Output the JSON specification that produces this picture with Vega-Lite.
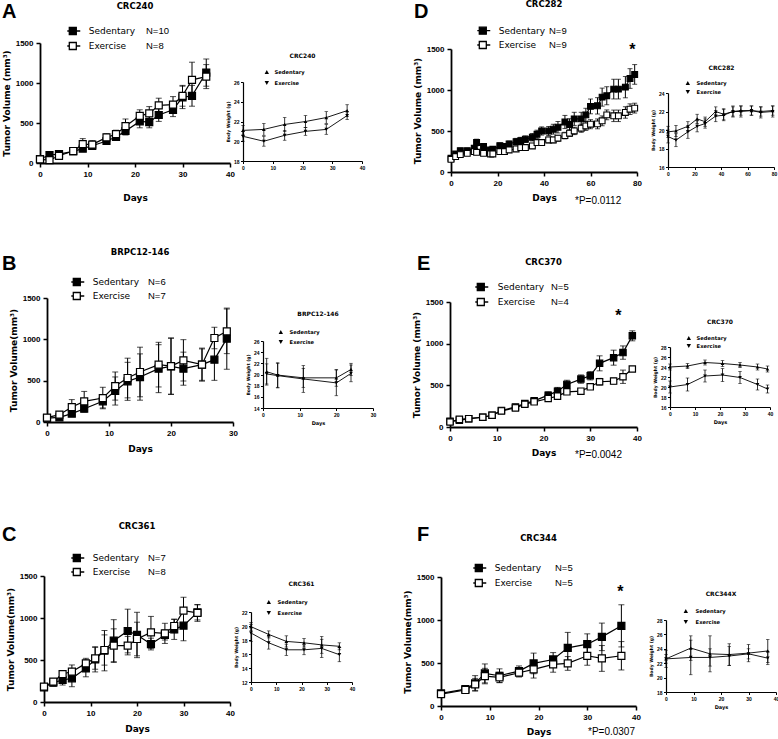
{
"$schema": "https://vega.github.io/schema/vega-lite/v6.json",
"padding": 0,
"background": "white",
"columns": 8,
"spacing": 0,
"bounds": "flush",
"resolve": {"scale": {"fill": "independent", "shape": "independent"}, "legend": {"fill": "independent", "shape": "independent"}},
"datasets": {
"tvA": [
{"day":0,"group":"Sedentary","mean":50,"sem":15},{"day":2,"group":"Sedentary","mean":100,"sem":15},{"day":4,"group":"Sedentary","mean":110,"sem":20},{"day":7,"group":"Sedentary","mean":145,"sem":25},{"day":9,"group":"Sedentary","mean":180,"sem":35},{"day":11,"group":"Sedentary","mean":215,"sem":30},{"day":14,"group":"Sedentary","mean":275,"sem":35},{"day":16,"group":"Sedentary","mean":325,"sem":40},{"day":18,"group":"Sedentary","mean":400,"sem":50},{"day":21,"group":"Sedentary","mean":520,"sem":80},{"day":23,"group":"Sedentary","mean":510,"sem":70},{"day":25,"group":"Sedentary","mean":600,"sem":80},{"day":28,"group":"Sedentary","mean":665,"sem":85},{"day":30,"group":"Sedentary","mean":820,"sem":140},{"day":32,"group":"Sedentary","mean":840,"sem":130},{"day":35,"group":"Sedentary","mean":1130,"sem":170},
{"day":0,"group":"Exercise","mean":45,"sem":15},{"day":2,"group":"Exercise","mean":35,"sem":10},{"day":4,"group":"Exercise","mean":90,"sem":20},{"day":7,"group":"Exercise","mean":150,"sem":25},{"day":9,"group":"Exercise","mean":235,"sem":70},{"day":11,"group":"Exercise","mean":230,"sem":50},{"day":14,"group":"Exercise","mean":320,"sem":45},{"day":16,"group":"Exercise","mean":360,"sem":50},{"day":18,"group":"Exercise","mean":460,"sem":90},{"day":21,"group":"Exercise","mean":590,"sem":75},{"day":23,"group":"Exercise","mean":620,"sem":85},{"day":25,"group":"Exercise","mean":720,"sem":90},{"day":28,"group":"Exercise","mean":730,"sem":100},{"day":30,"group":"Exercise","mean":840,"sem":130},{"day":32,"group":"Exercise","mean":1040,"sem":220},{"day":35,"group":"Exercise","mean":1080,"sem":150}
],
"tvD": [
{"day":0,"group":"Sedentary","mean":167,"sem":25},{"day":2,"group":"Sedentary","mean":220,"sem":30},{"day":4,"group":"Sedentary","mean":260,"sem":30},{"day":7,"group":"Sedentary","mean":260,"sem":30},{"day":10,"group":"Sedentary","mean":290,"sem":30},{"day":11,"group":"Sedentary","mean":360,"sem":40},{"day":14,"group":"Sedentary","mean":310,"sem":30},{"day":17,"group":"Sedentary","mean":270,"sem":25},{"day":18,"group":"Sedentary","mean":277,"sem":25},{"day":21,"group":"Sedentary","mean":322,"sem":30},{"day":23,"group":"Sedentary","mean":310,"sem":30},{"day":25,"group":"Sedentary","mean":342,"sem":35},{"day":28,"group":"Sedentary","mean":370,"sem":40},{"day":30,"group":"Sedentary","mean":383,"sem":40},{"day":32,"group":"Sedentary","mean":400,"sem":40},{"day":35,"group":"Sedentary","mean":424,"sem":45},{"day":37,"group":"Sedentary","mean":460,"sem":50},{"day":39,"group":"Sedentary","mean":500,"sem":50},{"day":42,"group":"Sedentary","mean":500,"sem":55},{"day":44,"group":"Sedentary","mean":522,"sem":60},{"day":46,"group":"Sedentary","mean":546,"sem":70},{"day":49,"group":"Sedentary","mean":610,"sem":80},{"day":51,"group":"Sedentary","mean":580,"sem":70},{"day":53,"group":"Sedentary","mean":648,"sem":80},{"day":56,"group":"Sedentary","mean":648,"sem":80},{"day":58,"group":"Sedentary","mean":697,"sem":80},{"day":60,"group":"Sedentary","mean":800,"sem":90},{"day":63,"group":"Sedentary","mean":807,"sem":100},{"day":65,"group":"Sedentary","mean":913,"sem":110},{"day":67,"group":"Sedentary","mean":930,"sem":110},{"day":70,"group":"Sedentary","mean":1011,"sem":120},{"day":72,"group":"Sedentary","mean":1011,"sem":120},{"day":75,"group":"Sedentary","mean":1035,"sem":130},{"day":77,"group":"Sedentary","mean":1140,"sem":120},{"day":79,"group":"Sedentary","mean":1190,"sem":120},
{"day":0,"group":"Exercise","mean":155,"sem":20},{"day":2,"group":"Exercise","mean":188,"sem":20},{"day":4,"group":"Exercise","mean":212,"sem":20},{"day":7,"group":"Exercise","mean":228,"sem":20},{"day":10,"group":"Exercise","mean":249,"sem":25},{"day":11,"group":"Exercise","mean":240,"sem":25},{"day":14,"group":"Exercise","mean":228,"sem":20},{"day":17,"group":"Exercise","mean":220,"sem":20},{"day":18,"group":"Exercise","mean":220,"sem":20},{"day":21,"group":"Exercise","mean":249,"sem":20},{"day":23,"group":"Exercise","mean":249,"sem":20},{"day":25,"group":"Exercise","mean":269,"sem":25},{"day":28,"group":"Exercise","mean":281,"sem":25},{"day":30,"group":"Exercise","mean":298,"sem":25},{"day":32,"group":"Exercise","mean":298,"sem":25},{"day":35,"group":"Exercise","mean":318,"sem":30},{"day":37,"group":"Exercise","mean":359,"sem":30},{"day":39,"group":"Exercise","mean":359,"sem":30},{"day":42,"group":"Exercise","mean":391,"sem":35},{"day":44,"group":"Exercise","mean":391,"sem":35},{"day":46,"group":"Exercise","mean":412,"sem":35},{"day":49,"group":"Exercise","mean":444,"sem":40},{"day":51,"group":"Exercise","mean":473,"sem":40},{"day":53,"group":"Exercise","mean":501,"sem":45},{"day":56,"group":"Exercise","mean":534,"sem":50},{"day":58,"group":"Exercise","mean":562,"sem":55},{"day":60,"group":"Exercise","mean":583,"sem":55},{"day":63,"group":"Exercise","mean":587,"sem":60},{"day":65,"group":"Exercise","mean":624,"sem":60},{"day":67,"group":"Exercise","mean":697,"sem":60},{"day":70,"group":"Exercise","mean":685,"sem":70},{"day":72,"group":"Exercise","mean":685,"sem":70},{"day":75,"group":"Exercise","mean":726,"sem":70},{"day":77,"group":"Exercise","mean":766,"sem":65},{"day":79,"group":"Exercise","mean":779,"sem":60}
],
"tvB": [
{"day":0,"group":"Sedentary","mean":48,"sem":15},{"day":2,"group":"Sedentary","mean":56,"sem":15},{"day":4,"group":"Sedentary","mean":101,"sem":25},{"day":6,"group":"Sedentary","mean":161,"sem":40},{"day":9,"group":"Sedentary","mean":250,"sem":80},{"day":11,"group":"Sedentary","mean":375,"sem":170},{"day":13,"group":"Sedentary","mean":492,"sem":230},{"day":15,"group":"Sedentary","mean":544,"sem":280},{"day":18,"group":"Sedentary","mean":645,"sem":290},{"day":20,"group":"Sedentary","mean":673,"sem":340},{"day":22,"group":"Sedentary","mean":645,"sem":200},{"day":25,"group":"Sedentary","mean":694,"sem":200},{"day":27,"group":"Sedentary","mean":754,"sem":250},{"day":29,"group":"Sedentary","mean":1008,"sem":370},
{"day":0,"group":"Exercise","mean":52,"sem":15},{"day":2,"group":"Exercise","mean":89,"sem":25},{"day":4,"group":"Exercise","mean":181,"sem":90},{"day":6,"group":"Exercise","mean":250,"sem":120},{"day":9,"group":"Exercise","mean":290,"sem":130},{"day":11,"group":"Exercise","mean":435,"sem":170},{"day":13,"group":"Exercise","mean":532,"sem":240},{"day":15,"group":"Exercise","mean":605,"sem":300},{"day":18,"group":"Exercise","mean":694,"sem":270},{"day":20,"group":"Exercise","mean":677,"sem":340},{"day":22,"group":"Exercise","mean":746,"sem":250},{"day":25,"group":"Exercise","mean":694,"sem":190},{"day":27,"group":"Exercise","mean":1016,"sem":130},{"day":29,"group":"Exercise","mean":1097,"sem":270}
],
"tvE": [
{"day":0,"group":"Sedentary","mean":68,"sem":10},{"day":2,"group":"Sedentary","mean":80,"sem":10},{"day":4,"group":"Sedentary","mean":100,"sem":10},{"day":7,"group":"Sedentary","mean":117,"sem":10},{"day":9,"group":"Sedentary","mean":141,"sem":10},{"day":11,"group":"Sedentary","mean":197,"sem":15},{"day":14,"group":"Sedentary","mean":241,"sem":20},{"day":16,"group":"Sedentary","mean":281,"sem":25},{"day":18,"group":"Sedentary","mean":314,"sem":25},{"day":21,"group":"Sedentary","mean":382,"sem":40},{"day":23,"group":"Sedentary","mean":430,"sem":45},{"day":25,"group":"Sedentary","mean":511,"sem":50},{"day":28,"group":"Sedentary","mean":575,"sem":50},{"day":30,"group":"Sedentary","mean":615,"sem":50},{"day":32,"group":"Sedentary","mean":764,"sem":90},{"day":35,"group":"Sedentary","mean":832,"sem":90},{"day":37,"group":"Sedentary","mean":893,"sem":80},{"day":39,"group":"Sedentary","mean":1094,"sem":60},
{"day":0,"group":"Exercise","mean":60,"sem":10},{"day":2,"group":"Exercise","mean":92,"sem":10},{"day":4,"group":"Exercise","mean":100,"sem":10},{"day":7,"group":"Exercise","mean":117,"sem":10},{"day":9,"group":"Exercise","mean":141,"sem":10},{"day":11,"group":"Exercise","mean":193,"sem":15},{"day":14,"group":"Exercise","mean":229,"sem":20},{"day":16,"group":"Exercise","mean":273,"sem":20},{"day":18,"group":"Exercise","mean":302,"sem":20},{"day":21,"group":"Exercise","mean":342,"sem":30},{"day":23,"group":"Exercise","mean":370,"sem":20},{"day":25,"group":"Exercise","mean":422,"sem":20},{"day":28,"group":"Exercise","mean":430,"sem":20},{"day":30,"group":"Exercise","mean":482,"sem":30},{"day":32,"group":"Exercise","mean":543,"sem":40},{"day":35,"group":"Exercise","mean":551,"sem":35},{"day":37,"group":"Exercise","mean":603,"sem":80},{"day":39,"group":"Exercise","mean":696,"sem":30}
],
"tvC": [
{"day":0,"group":"Sedentary","mean":175,"sem":30},{"day":2,"group":"Sedentary","mean":230,"sem":40},{"day":4,"group":"Sedentary","mean":262,"sem":60},{"day":6,"group":"Sedentary","mean":282,"sem":100},{"day":9,"group":"Sedentary","mean":400,"sem":100},{"day":11,"group":"Sedentary","mean":508,"sem":150},{"day":13,"group":"Sedentary","mean":611,"sem":240},{"day":15,"group":"Sedentary","mean":730,"sem":250},{"day":18,"group":"Sedentary","mean":845,"sem":260},{"day":20,"group":"Sedentary","mean":798,"sem":270},{"day":23,"group":"Sedentary","mean":690,"sem":70},{"day":26,"group":"Sedentary","mean":798,"sem":60},{"day":28,"group":"Sedentary","mean":865,"sem":120},{"day":30,"group":"Sedentary","mean":909,"sem":180},{"day":33,"group":"Sedentary","mean":1067,"sem":90},
{"day":0,"group":"Exercise","mean":183,"sem":20},{"day":2,"group":"Exercise","mean":242,"sem":30},{"day":4,"group":"Exercise","mean":333,"sem":40},{"day":6,"group":"Exercise","mean":361,"sem":80},{"day":9,"group":"Exercise","mean":460,"sem":60},{"day":11,"group":"Exercise","mean":520,"sem":130},{"day":13,"group":"Exercise","mean":619,"sem":180},{"day":15,"group":"Exercise","mean":671,"sem":200},{"day":18,"group":"Exercise","mean":671,"sem":110},{"day":20,"group":"Exercise","mean":750,"sem":200},{"day":23,"group":"Exercise","mean":829,"sem":190},{"day":26,"group":"Exercise","mean":817,"sem":120},{"day":28,"group":"Exercise","mean":905,"sem":80},{"day":30,"group":"Exercise","mean":1087,"sem":160},{"day":33,"group":"Exercise","mean":1060,"sem":100}
],
"tvF": [
{"day":0,"group":"Sedentary","mean":147,"sem":20},{"day":5,"group":"Sedentary","mean":197,"sem":30},{"day":7,"group":"Sedentary","mean":263,"sem":90},{"day":9,"group":"Sedentary","mean":379,"sem":110},{"day":12,"group":"Sedentary","mean":352,"sem":80},{"day":16,"group":"Sedentary","mean":406,"sem":60},{"day":19,"group":"Sedentary","mean":495,"sem":120},{"day":23,"group":"Sedentary","mean":541,"sem":80},{"day":26,"group":"Sedentary","mean":676,"sem":180},{"day":30,"group":"Sedentary","mean":719,"sem":120},{"day":33,"group":"Sedentary","mean":804,"sem":160},{"day":37,"group":"Sedentary","mean":932,"sem":245},
{"day":0,"group":"Exercise","mean":139,"sem":20},{"day":5,"group":"Exercise","mean":186,"sem":30},{"day":7,"group":"Exercise","mean":251,"sem":70},{"day":9,"group":"Exercise","mean":348,"sem":90},{"day":12,"group":"Exercise","mean":332,"sem":60},{"day":16,"group":"Exercise","mean":387,"sem":50},{"day":19,"group":"Exercise","mean":425,"sem":100},{"day":23,"group":"Exercise","mean":483,"sem":90},{"day":26,"group":"Exercise","mean":495,"sem":80},{"day":30,"group":"Exercise","mean":584,"sem":110},{"day":33,"group":"Exercise","mean":553,"sem":150},{"day":37,"group":"Exercise","mean":584,"sem":165}
],
"bwA": [
{"day":0,"group":"Sedentary","mean":21.1,"sem":0.5},{"day":7,"group":"Sedentary","mean":21.2,"sem":0.6},{"day":14,"group":"Sedentary","mean":21.7,"sem":0.7},{"day":21,"group":"Sedentary","mean":22.0,"sem":0.6},{"day":28,"group":"Sedentary","mean":22.4,"sem":0.6},{"day":35,"group":"Sedentary","mean":23.1,"sem":0.6},
{"day":0,"group":"Exercise","mean":20.5,"sem":0.5},{"day":7,"group":"Exercise","mean":20.0,"sem":0.5},{"day":14,"group":"Exercise","mean":20.6,"sem":0.5},{"day":21,"group":"Exercise","mean":21.0,"sem":0.4},{"day":28,"group":"Exercise","mean":21.2,"sem":0.5},{"day":35,"group":"Exercise","mean":22.6,"sem":0.4}
],
"bwD": [
{"day":0,"group":"Sedentary","mean":19.8,"sem":0.6},{"day":6,"group":"Sedentary","mean":19.9,"sem":0.6},{"day":15,"group":"Sedentary","mean":20.4,"sem":0.5},{"day":22,"group":"Sedentary","mean":21.2,"sem":0.5},{"day":28,"group":"Sedentary","mean":20.9,"sem":0.5},{"day":36,"group":"Sedentary","mean":22.0,"sem":0.5},{"day":42,"group":"Sedentary","mean":21.7,"sem":0.6},{"day":49,"group":"Sedentary","mean":22.0,"sem":0.5},{"day":55,"group":"Sedentary","mean":22.1,"sem":0.5},{"day":63,"group":"Sedentary","mean":22.1,"sem":0.5},{"day":70,"group":"Sedentary","mean":22.0,"sem":0.5},{"day":79,"group":"Sedentary","mean":22.1,"sem":0.5},
{"day":0,"group":"Exercise","mean":19.3,"sem":0.7},{"day":6,"group":"Exercise","mean":18.9,"sem":0.7},{"day":15,"group":"Exercise","mean":19.8,"sem":0.7},{"day":22,"group":"Exercise","mean":20.4,"sem":0.6},{"day":28,"group":"Exercise","mean":20.7,"sem":0.5},{"day":36,"group":"Exercise","mean":21.5,"sem":0.6},{"day":42,"group":"Exercise","mean":21.6,"sem":0.6},{"day":49,"group":"Exercise","mean":22.0,"sem":0.6},{"day":55,"group":"Exercise","mean":22.0,"sem":0.6},{"day":63,"group":"Exercise","mean":22.1,"sem":0.5},{"day":70,"group":"Exercise","mean":21.9,"sem":0.6},{"day":79,"group":"Exercise","mean":22.0,"sem":0.6}
],
"bwB": [
{"day":1,"group":"Sedentary","mean":20.5,"sem":2.4},{"day":4,"group":"Sedentary","mean":19.9,"sem":2.2},{"day":11,"group":"Sedentary","mean":19.4,"sem":1.7},{"day":20,"group":"Sedentary","mean":19.4,"sem":1.5},{"day":24,"group":"Sedentary","mean":20.9,"sem":1.1},
{"day":1,"group":"Exercise","mean":20.1,"sem":1.8},{"day":4,"group":"Exercise","mean":19.8,"sem":2.2},{"day":11,"group":"Exercise","mean":19.2,"sem":2.4},{"day":20,"group":"Exercise","mean":18.5,"sem":2.3},{"day":24,"group":"Exercise","mean":20.2,"sem":1.5}
],
"bwE": [
{"day":0,"group":"Sedentary","mean":24.0,"sem":0.6},{"day":7,"group":"Sedentary","mean":24.2,"sem":0.5},{"day":14,"group":"Sedentary","mean":24.9,"sem":0.5},{"day":21,"group":"Sedentary","mean":24.7,"sem":0.6},{"day":28,"group":"Sedentary","mean":24.4,"sem":0.5},{"day":35,"group":"Sedentary","mean":24.0,"sem":0.6},{"day":39,"group":"Sedentary","mean":23.6,"sem":0.6},
{"day":0,"group":"Exercise","mean":20.0,"sem":1.2},{"day":7,"group":"Exercise","mean":20.5,"sem":1.3},{"day":14,"group":"Exercise","mean":22.2,"sem":1.2},{"day":21,"group":"Exercise","mean":22.4,"sem":1.3},{"day":28,"group":"Exercise","mean":21.9,"sem":1.2},{"day":35,"group":"Exercise","mean":20.5,"sem":1.1},{"day":39,"group":"Exercise","mean":19.6,"sem":0.8}
],
"bwC": [
{"day":0,"group":"Sedentary","mean":19.9,"sem":0.6},{"day":7,"group":"Sedentary","mean":18.8,"sem":0.5},{"day":14,"group":"Sedentary","mean":17.8,"sem":0.8},{"day":21,"group":"Sedentary","mean":17.6,"sem":0.6},{"day":28,"group":"Sedentary","mean":17.3,"sem":1.2},{"day":35,"group":"Sedentary","mean":17.1,"sem":0.5},
{"day":0,"group":"Exercise","mean":19.0,"sem":1.2},{"day":7,"group":"Exercise","mean":17.6,"sem":0.9},{"day":14,"group":"Exercise","mean":16.6,"sem":0.8},{"day":21,"group":"Exercise","mean":16.6,"sem":0.7},{"day":28,"group":"Exercise","mean":16.8,"sem":1.3},{"day":35,"group":"Exercise","mean":15.9,"sem":1.0}
],
"bwF": [
{"day":0,"group":"Sedentary","mean":22.6,"sem":0.6},{"day":9,"group":"Sedentary","mean":24.1,"sem":1.7},{"day":16,"group":"Sedentary","mean":23.3,"sem":2.5},{"day":23,"group":"Sedentary","mean":23.2,"sem":1.5},{"day":30,"group":"Sedentary","mean":23.4,"sem":1.2},{"day":37,"group":"Sedentary","mean":23.7,"sem":1.6},
{"day":0,"group":"Exercise","mean":22.6,"sem":1.2},{"day":9,"group":"Exercise","mean":22.8,"sem":2.4},{"day":16,"group":"Exercise","mean":22.8,"sem":1.2},{"day":23,"group":"Exercise","mean":23.0,"sem":1.3},{"day":30,"group":"Exercise","mean":23.3,"sem":0.7},{"day":37,"group":"Exercise","mean":22.7,"sem":0.9}
],
"stars": [
{"panel":"D","day":78,"value":1490,"label":"*"},
{"panel":"E","day":36,"value":1330,"label":"*"},
{"panel":"F","day":36.8,"value":1320,"label":"*"}
]
},
"concat": [
{"width":40,"height":43,"data":{"values":[]},"mark":"point"},
{"width":193,"height":43,"data":{"values":[]},"mark":"point"},
{"width":10,"height":43,"data":{"values":[]},"mark":"point"},
{"width":130,"height":43,"data":{"values":[]},"mark":"point"},
{"width":68,"height":43,"data":{"values":[]},"mark":"point"},
{"width":196,"height":43,"data":{"values":[]},"mark":"point"},
{"width":29,"height":43,"data":{"values":[]},"mark":"point"},
{"width":111,"height":43,"data":{"values":[]},"mark":"point"},

{"width":40,"height":129,"data":{"values":[]},"mark":"point","title":{"text":"A","anchor":"start","frame":"group","offset":21.5,"dx":2,"font":"Liberation Sans","fontSize":20,"fontWeight":"bold"}},
{"width":193,"height":129,"data":{"name":"tvA"},
 "title":{"text":"CRC240","offset":15.5,"dx":-1.5},
 "encoding":{"x":{"field":"day","type":"quantitative","scale":{"domain":[0,40],"range":[0,190],"nice":false},"axis":{"title":"Days","titlePadding":15,"values":[0,10,20,30,40],"offset":-9}},
   "y":{"field":"mean","type":"quantitative","scale":{"domain":[0,1500],"range":[120,0],"nice":false},"axis":{"title":"Tumor Volume (mm³)","values":[0,500,1000,1500],"offset":0}}},
 "layer":[
  {"mark":{"type":"errorbar","ticks":true,"size":6,"thickness":1,"color":"black"},"encoding":{"yError":{"field":"sem"},"detail":{"field":"group"}}},
  {"mark":{"type":"line","color":"black","strokeWidth":1.2},"encoding":{"detail":{"field":"group"}}},
  {"mark":{"type":"square","size":49,"stroke":"black","strokeWidth":1.2,"opacity":1},"encoding":{
    "fill":{"field":"group","type":"nominal","scale":{"domain":["Sedentary","Exercise"],"range":["black","white"]},
     "legend":{"orient":"none","legendX":27.3,"legendY":-17,"padding":0,"clipHeight":10,"rowPadding":5,"symbolType":"M-1.6,0H-0.75M0.75,0H1.6M-0.75,-0.75H0.75V0.75H-0.75Z","symbolSize":87,"symbolStrokeColor":"black","symbolStrokeWidth":1.3,"labelFont":"DejaVu Sans","labelFontSize":9,"labelOffset":10.4,
       "title":["N=10","N=8"],"titleOrient":"right","titleAnchor":"start","titleBaseline":"top","titleLineHeight":15,"titlePadding":10.7,"titleFont":"Liberation Sans","titleFontSize":9.5,"titleFontWeight":"normal","titleColor":"black"}}}}
 ]},
{"width":10,"height":129,"data":{"values":[]},"mark":"point"},
{"width":130,"height":129,"data":{"name":"bwA"},
 "title":{"text":"CRC240","fontSize":6,"offset":-16,"dx":-5.5},
 "encoding":{"x":{"field":"day","type":"quantitative","scale":{"domain":[0,40],"range":[0,119],"nice":false},"axis":{"title":null,"values":[0,10,20,30,40],"offset":-11,"labelFontSize":5,"tickSize":2.5,"tickWidth":1,"domainWidth":1.2,"labelPadding":1.5}},
   "y":{"field":"mean","type":"quantitative","scale":{"domain":[18,26],"range":[118,39],"nice":false,"zero":false},"axis":{"title":"Body Weight (g)","values":[18,20,22,24,26],"offset":0,"labelFontSize":5,"titleFontSize":4.5,"tickSize":2.5,"tickWidth":1,"domainWidth":1.2,"labelPadding":1.5,"titlePadding":3}}},
 "layer":[
  {"mark":{"type":"errorbar","ticks":true,"size":3.5,"thickness":0.8,"color":"black"},"encoding":{"yError":{"field":"sem"},"detail":{"field":"group"}}},
  {"mark":{"type":"line","color":"black","strokeWidth":0.9},"encoding":{"detail":{"field":"group"}}},
  {"mark":{"type":"point","filled":true,"size":14,"color":"black","opacity":1},"encoding":{
    "shape":{"field":"group","type":"nominal","scale":{"domain":["Sedentary","Exercise"],"range":["triangle-up","triangle-down"]},
     "legend":{"orient":"none","legendX":20.8,"legendY":26.5,"title":null,"padding":0,"clipHeight":5,"rowPadding":5,"symbolSize":19,"labelFont":"DejaVu Sans","labelFontWeight":"bold","labelFontSize":5.2,"labelOffset":4.8}}}}
 ]},
{"width":68,"height":129,"data":{"values":[]},"mark":"point","title":{"text":"D","anchor":"start","frame":"group","offset":21.5,"dx":41,"font":"Liberation Sans","fontSize":20,"fontWeight":"bold"}},
{"width":196,"height":129,"data":{"name":"tvD"},
 "title":{"text":"CRC282","offset":17,"dx":5},
 "encoding":{"x":{"field":"day","type":"quantitative","scale":{"domain":[0,80],"range":[10,196],"nice":false},"axis":{"title":"Days","values":[0,20,40,60,80],"offset":0}},
   "y":{"field":"mean","type":"quantitative","scale":{"domain":[0,1500],"range":[129,6],"nice":false},"axis":{"title":"Tumor Volume (mm³)","values":[0,500,1000,1500],"offset":-10}}},
 "layer":[
  {"mark":{"type":"errorbar","ticks":true,"size":5,"thickness":1,"color":"black"},"encoding":{"yError":{"field":"sem"},"detail":{"field":"group"}}},
  {"mark":{"type":"line","color":"black","strokeWidth":1.1},"encoding":{"detail":{"field":"group"}}},
  {"mark":{"type":"square","size":34,"stroke":"black","strokeWidth":1.1,"opacity":1},"encoding":{
    "fill":{"field":"group","type":"nominal","scale":{"domain":["Sedentary","Exercise"],"range":["black","white"]},
     "legend":{"orient":"none","legendX":36.3,"legendY":-17.3,"padding":0,"clipHeight":10,"rowPadding":4.3,"symbolType":"M-1.6,0H-0.75M0.75,0H1.6M-0.75,-0.75H0.75V0.75H-0.75Z","symbolSize":87,"symbolStrokeColor":"black","symbolStrokeWidth":1.3,"labelFont":"DejaVu Sans","labelFontSize":9,"labelOffset":10.4,
       "title":["N=9","N=9"],"titleOrient":"right","titleAnchor":"start","titleBaseline":"top","titleLineHeight":14.3,"titlePadding":3.7,"titleFont":"Liberation Sans","titleFontSize":9.5,"titleFontWeight":"normal","titleColor":"black"}}}},
  {"data":{"name":"stars"},"transform":[{"filter":"datum.panel === 'D'"}],"mark":{"type":"text","font":"Liberation Sans","fontSize":16,"fontWeight":"bold","color":"black","baseline":"middle"},
   "encoding":{"y":{"field":"value","type":"quantitative","scale":{"domain":[0,1500],"range":[129,6],"nice":false}},"text":{"field":"label"}}}
 ]},
{"width":29,"height":129,"data":{"values":[]},"mark":"point"},
{"width":111,"height":129,"data":{"name":"bwD"},
 "title":{"text":"CRC282","fontSize":6,"offset":-28,"dx":0},
 "encoding":{"x":{"field":"day","type":"quantitative","scale":{"domain":[0,80],"range":[2,108],"nice":false},"axis":{"title":null,"values":[0,20,40,60,80],"offset":-5,"labelFontSize":5,"tickSize":2.5,"tickWidth":1,"domainWidth":1.2,"labelPadding":1.5}},
   "y":{"field":"mean","type":"quantitative","scale":{"domain":[16,24],"range":[124,50],"nice":false,"zero":false},"axis":{"title":"Body Weight (g)","values":[16,18,20,22,24],"offset":-2,"labelFontSize":5,"titleFontSize":4.5,"tickSize":2.5,"tickWidth":1,"domainWidth":1.2,"labelPadding":1.5,"titlePadding":3}}},
 "layer":[
  {"mark":{"type":"errorbar","ticks":true,"size":3.5,"thickness":0.8,"color":"black"},"encoding":{"yError":{"field":"sem"},"detail":{"field":"group"}}},
  {"mark":{"type":"line","color":"black","strokeWidth":0.9},"encoding":{"detail":{"field":"group"}}},
  {"mark":{"type":"point","filled":true,"size":14,"color":"black","opacity":1},"encoding":{
    "shape":{"field":"group","type":"nominal","scale":{"domain":["Sedentary","Exercise"],"range":["triangle-up","triangle-down"]},
     "legend":{"orient":"none","legendX":18.8,"legendY":37.5,"title":null,"padding":0,"clipHeight":5,"rowPadding":3,"symbolSize":19,"labelFont":"DejaVu Sans","labelFontWeight":"bold","labelFontSize":5.2,"labelOffset":5.8}}}}
 ]},

{"width":40,"height":126,"data":{"values":[]},"mark":"point"},
{"width":193,"height":126,"data":{"values":[]},"mark":"point"},
{"width":10,"height":126,"data":{"values":[]},"mark":"point"},
{"width":130,"height":126,"data":{"values":[]},"mark":"point"},
{"width":68,"height":126,"data":{"values":[]},"mark":"point"},
{"width":196,"height":126,"data":{"values":[]},"mark":"point","title":{"text":"*P=0.0112","anchor":"start","frame":"group","offset":-34,"dx":134,"font":"Liberation Sans","fontSize":10,"fontWeight":"normal"}},
{"width":29,"height":126,"data":{"values":[]},"mark":"point"},
{"width":111,"height":126,"data":{"values":[]},"mark":"point"},

{"width":40,"height":129,"data":{"values":[]},"mark":"point","title":{"text":"B","anchor":"start","frame":"group","offset":24,"dx":2,"font":"Liberation Sans","fontSize":20,"fontWeight":"bold"}},
{"width":193,"height":129,"data":{"name":"tvB"},
 "title":{"text":"BRPC12-146","offset":20.5,"dx":3.5},
 "encoding":{"x":{"field":"day","type":"quantitative","scale":{"domain":[0,30],"range":[7,193],"nice":false},"axis":{"title":"Days","titlePadding":7,"values":[0,10,20,30],"offset":-5}},
   "y":{"field":"mean","type":"quantitative","scale":{"domain":[0,1500],"range":[124,0],"nice":false},"axis":{"title":"Tumor Volume(mm³)","values":[0,500,1000,1500],"offset":-7}}},
 "layer":[
  {"mark":{"type":"errorbar","ticks":true,"size":6,"thickness":1,"color":"black"},"encoding":{"yError":{"field":"sem"},"detail":{"field":"group"}}},
  {"mark":{"type":"line","color":"black","strokeWidth":1.2},"encoding":{"detail":{"field":"group"}}},
  {"mark":{"type":"square","size":49,"stroke":"black","strokeWidth":1.2,"opacity":1},"encoding":{
    "fill":{"field":"group","type":"nominal","scale":{"domain":["Sedentary","Exercise"],"range":["black","white"]},
     "legend":{"orient":"none","legendX":31.3,"legendY":-21,"padding":0,"clipHeight":10,"rowPadding":4,"symbolType":"M-1.6,0H-0.75M0.75,0H1.6M-0.75,-0.75H0.75V0.75H-0.75Z","symbolSize":87,"symbolStrokeColor":"black","symbolStrokeWidth":1.3,"labelFont":"DejaVu Sans","labelFontSize":9,"labelOffset":10.4,
       "title":["N=6","N=7"],"titleOrient":"right","titleAnchor":"start","titleBaseline":"top","titleLineHeight":14,"titlePadding":8.7,"titleFont":"Liberation Sans","titleFontSize":9.5,"titleFontWeight":"normal","titleColor":"black"}}}}
 ]},
{"width":10,"height":129,"data":{"values":[]},"mark":"point"},
{"width":130,"height":129,"data":{"name":"bwB"},
 "title":{"text":"BRPC12-146","fontSize":6,"offset":-19,"dx":10},
 "encoding":{"x":{"field":"day","type":"quantitative","scale":{"domain":[0,30],"range":[20,130],"nice":false},"axis":{"title":"Days","titleFontSize":5,"titlePadding":3,"values":[0,10,20,30],"offset":-19,"labelFontSize":5,"tickSize":2.5,"tickWidth":1,"domainWidth":1.2,"labelPadding":1.5}},
   "y":{"field":"mean","type":"quantitative","scale":{"domain":[14,26],"range":[110,43],"nice":false,"zero":false},"axis":{"title":"Body Weight (g)","values":[14,16,18,20,22,24,26],"offset":-20,"labelFontSize":5,"titleFontSize":4.5,"tickSize":2.5,"tickWidth":1,"domainWidth":1.2,"labelPadding":1.5,"titlePadding":3}}},
 "layer":[
  {"mark":{"type":"errorbar","ticks":true,"size":3.5,"thickness":0.8,"color":"black"},"encoding":{"yError":{"field":"sem"},"detail":{"field":"group"}}},
  {"mark":{"type":"line","color":"black","strokeWidth":0.9},"encoding":{"detail":{"field":"group"}}},
  {"mark":{"type":"point","filled":true,"size":14,"color":"black","opacity":1},"encoding":{
    "shape":{"field":"group","type":"nominal","scale":{"domain":["Sedentary","Exercise"],"range":["triangle-up","triangle-down"]},
     "legend":{"orient":"none","legendX":34.8,"legendY":31.5,"title":null,"padding":0,"clipHeight":5,"rowPadding":4,"symbolSize":19,"labelFont":"DejaVu Sans","labelFontWeight":"bold","labelFontSize":5.2,"labelOffset":5.8}}}}
 ]},
{"width":68,"height":129,"data":{"values":[]},"mark":"point","title":{"text":"E","anchor":"start","frame":"group","offset":24,"dx":44,"font":"Liberation Sans","fontSize":20,"fontWeight":"bold"}},
{"width":196,"height":129,"data":{"name":"tvE"},
 "title":{"text":"CRC370","offset":15.5,"dx":4.5},
 "encoding":{"x":{"field":"day","type":"quantitative","scale":{"domain":[0,40],"range":[9,196],"nice":false},"axis":{"title":"Days","values":[0,10,20,30,40],"offset":0}},
   "y":{"field":"mean","type":"quantitative","scale":{"domain":[0,1500],"range":[129,4],"nice":false},"axis":{"title":"Tumor Volume (mm³)","values":[0,500,1000,1500],"offset":-9}}},
 "layer":[
  {"mark":{"type":"errorbar","ticks":true,"size":6,"thickness":1,"color":"black"},"encoding":{"yError":{"field":"sem"},"detail":{"field":"group"}}},
  {"mark":{"type":"line","color":"black","strokeWidth":1.2},"encoding":{"detail":{"field":"group"}}},
  {"mark":{"type":"square","size":40,"stroke":"black","strokeWidth":1.2,"opacity":1},"encoding":{
    "fill":{"field":"group","type":"nominal","scale":{"domain":["Sedentary","Exercise"],"range":["black","white"]},
     "legend":{"orient":"none","legendX":34.3,"legendY":-16,"padding":0,"clipHeight":10,"rowPadding":5,"symbolType":"M-1.6,0H-0.75M0.75,0H1.6M-0.75,-0.75H0.75V0.75H-0.75Z","symbolSize":87,"symbolStrokeColor":"black","symbolStrokeWidth":1.3,"labelFont":"DejaVu Sans","labelFontSize":9,"labelOffset":11.4,
       "title":["N=5","N=4"],"titleOrient":"right","titleAnchor":"start","titleBaseline":"top","titleLineHeight":15,"titlePadding":6.7,"titleFont":"Liberation Sans","titleFontSize":9.5,"titleFontWeight":"normal","titleColor":"black"}}}},
  {"data":{"name":"stars"},"transform":[{"filter":"datum.panel === 'E'"}],"mark":{"type":"text","font":"Liberation Sans","fontSize":16,"fontWeight":"bold","color":"black","baseline":"middle"},
   "encoding":{"y":{"field":"value","type":"quantitative","scale":{"domain":[0,1500],"range":[129,4],"nice":false}},"text":{"field":"label"}}}
 ]},
{"width":29,"height":129,"data":{"values":[]},"mark":"point"},
{"width":111,"height":129,"data":{"name":"bwE"},
 "title":{"text":"CRC370","fontSize":6,"offset":-27,"dx":-1.5},
 "encoding":{"x":{"field":"day","type":"quantitative","scale":{"domain":[0,40],"range":[4,104],"nice":false},"axis":{"title":"Days","titleFontSize":5,"titlePadding":3,"values":[0,10,20,30,40],"offset":-20,"labelFontSize":5,"tickSize":2.5,"tickWidth":1,"domainWidth":1.2,"labelPadding":1.5}},
   "y":{"field":"mean","type":"quantitative","scale":{"domain":[16,28],"range":[109,49],"nice":false,"zero":false},"axis":{"title":"Body Weight (g)","values":[16,18,20,22,24,26,28],"offset":-4,"labelFontSize":5,"titleFontSize":4.5,"tickSize":2.5,"tickWidth":1,"domainWidth":1.2,"labelPadding":1.5,"titlePadding":3}}},
 "layer":[
  {"mark":{"type":"errorbar","ticks":true,"size":3.5,"thickness":0.8,"color":"black"},"encoding":{"yError":{"field":"sem"},"detail":{"field":"group"}}},
  {"mark":{"type":"line","color":"black","strokeWidth":0.9},"encoding":{"detail":{"field":"group"}}},
  {"mark":{"type":"point","filled":true,"size":14,"color":"black","opacity":1},"encoding":{
    "shape":{"field":"group","type":"nominal","scale":{"domain":["Sedentary","Exercise"],"range":["triangle-up","triangle-down"]},
     "legend":{"orient":"none","legendX":19.8,"legendY":37.5,"title":null,"padding":0,"clipHeight":5,"rowPadding":2,"symbolSize":19,"labelFont":"DejaVu Sans","labelFontWeight":"bold","labelFontSize":5.2,"labelOffset":4.8}}}}
 ]},

{"width":40,"height":149,"data":{"values":[]},"mark":"point"},
{"width":193,"height":149,"data":{"values":[]},"mark":"point"},
{"width":10,"height":149,"data":{"values":[]},"mark":"point"},
{"width":130,"height":149,"data":{"values":[]},"mark":"point"},
{"width":68,"height":149,"data":{"values":[]},"mark":"point"},
{"width":196,"height":149,"data":{"values":[]},"mark":"point","title":{"text":"*P=0.0042","anchor":"start","frame":"group","offset":-33,"dx":134,"font":"Liberation Sans","fontSize":10,"fontWeight":"normal"}},
{"width":29,"height":149,"data":{"values":[]},"mark":"point"},
{"width":111,"height":149,"data":{"values":[]},"mark":"point"},

{"width":40,"height":130,"data":{"values":[]},"mark":"point","title":{"text":"C","anchor":"start","frame":"group","offset":31,"dx":2,"font":"Liberation Sans","fontSize":20,"fontWeight":"bold"}},
{"width":193,"height":130,"data":{"name":"tvC"},
 "title":{"text":"CRC361","offset":22.5,"dx":0.5},
 "encoding":{"x":{"field":"day","type":"quantitative","scale":{"domain":[0,40],"range":[4,190],"nice":false},"axis":{"title":"Days","titlePadding":7,"values":[0,10,20,30,40],"offset":-4}},
   "y":{"field":"mean","type":"quantitative","scale":{"domain":[0,1500],"range":[126,0],"nice":false},"axis":{"title":"Tumor Volume(mm³)","values":[0,500,1000,1500],"offset":-4}}},
 "layer":[
  {"mark":{"type":"errorbar","ticks":true,"size":6,"thickness":1,"color":"black"},"encoding":{"yError":{"field":"sem"},"detail":{"field":"group"}}},
  {"mark":{"type":"line","color":"black","strokeWidth":1.2},"encoding":{"detail":{"field":"group"}}},
  {"mark":{"type":"square","size":49,"stroke":"black","strokeWidth":1.2,"opacity":1},"encoding":{
    "fill":{"field":"group","type":"nominal","scale":{"domain":["Sedentary","Exercise"],"range":["black","white"]},
     "legend":{"orient":"none","legendX":31.3,"legendY":-23,"padding":0,"clipHeight":10,"rowPadding":4,"symbolType":"M-1.6,0H-0.75M0.75,0H1.6M-0.75,-0.75H0.75V0.75H-0.75Z","symbolSize":87,"symbolStrokeColor":"black","symbolStrokeWidth":1.3,"labelFont":"DejaVu Sans","labelFontSize":9,"labelOffset":10.4,
       "title":["N=7","N=8"],"titleOrient":"right","titleAnchor":"start","titleBaseline":"top","titleLineHeight":14,"titlePadding":8.7,"titleFont":"Liberation Sans","titleFontSize":9.5,"titleFontWeight":"normal","titleColor":"black"}}}}
 ]},
{"width":10,"height":130,"data":{"values":[]},"mark":"point"},
{"width":130,"height":130,"data":{"name":"bwC"},
 "title":{"text":"CRC361","fontSize":6,"offset":-11,"dx":-6.5},
 "encoding":{"x":{"field":"day","type":"quantitative","scale":{"domain":[0,40],"range":[8,109],"nice":false},"axis":{"title":null,"values":[0,10,20,30,40],"offset":-24,"labelFontSize":5,"tickSize":2.5,"tickWidth":1,"domainWidth":1.2,"labelPadding":1.5}},
   "y":{"field":"mean","type":"quantitative","scale":{"domain":[12,22],"range":[106,36],"nice":false,"zero":false},"axis":{"title":"Body Weight (g)","values":[12,14,16,18,20,22],"offset":-8,"labelFontSize":5,"titleFontSize":4.5,"tickSize":2.5,"tickWidth":1,"domainWidth":1.2,"labelPadding":1.5,"titlePadding":3}}},
 "layer":[
  {"mark":{"type":"errorbar","ticks":true,"size":3.5,"thickness":0.8,"color":"black"},"encoding":{"yError":{"field":"sem"},"detail":{"field":"group"}}},
  {"mark":{"type":"line","color":"black","strokeWidth":0.9},"encoding":{"detail":{"field":"group"}}},
  {"mark":{"type":"point","filled":true,"size":14,"color":"black","opacity":1},"encoding":{
    "shape":{"field":"group","type":"nominal","scale":{"domain":["Sedentary","Exercise"],"range":["triangle-up","triangle-down"]},
     "legend":{"orient":"none","legendX":22.8,"legendY":23.5,"title":null,"padding":0,"clipHeight":5,"rowPadding":5,"symbolSize":19,"labelFont":"DejaVu Sans","labelFontWeight":"bold","labelFontSize":5.2,"labelOffset":5.8}}}}
 ]},
{"width":68,"height":130,"data":{"values":[]},"mark":"point","title":{"text":"F","anchor":"start","frame":"group","offset":31,"dx":44,"font":"Liberation Sans","fontSize":20,"fontWeight":"bold"}},
{"width":196,"height":130,"data":{"name":"tvF"},
 "title":{"text":"CRC344","offset":20.5,"dx":-0.5},
 "encoding":{"x":{"field":"day","type":"quantitative","scale":{"domain":[0,40],"range":[0,195],"nice":false},"axis":{"title":"Days","values":[0,10,20,30,40],"offset":0}},
   "y":{"field":"mean","type":"quantitative","scale":{"domain":[0,1500],"range":[130,1],"nice":false},"axis":{"title":"Tumor Volume(mm³)","values":[0,500,1000,1500],"offset":0}}},
 "layer":[
  {"mark":{"type":"errorbar","ticks":true,"size":6,"thickness":1,"color":"black"},"encoding":{"yError":{"field":"sem"},"detail":{"field":"group"}}},
  {"mark":{"type":"line","color":"black","strokeWidth":1.2},"encoding":{"detail":{"field":"group"}}},
  {"mark":{"type":"square","size":49,"stroke":"black","strokeWidth":1.2,"opacity":1},"encoding":{
    "fill":{"field":"group","type":"nominal","scale":{"domain":["Sedentary","Exercise"],"range":["black","white"]},
     "legend":{"orient":"none","legendX":32.3,"legendY":-13,"padding":0,"clipHeight":10,"rowPadding":5,"symbolType":"M-1.6,0H-0.75M0.75,0H1.6M-0.75,-0.75H0.75V0.75H-0.75Z","symbolSize":87,"symbolStrokeColor":"black","symbolStrokeWidth":1.3,"labelFont":"DejaVu Sans","labelFontSize":9,"labelOffset":10.4,
       "title":["N=5","N=5"],"titleOrient":"right","titleAnchor":"start","titleBaseline":"top","titleLineHeight":15,"titlePadding":13.7,"titleFont":"Liberation Sans","titleFontSize":9.5,"titleFontWeight":"normal","titleColor":"black"}}}},
  {"data":{"name":"stars"},"transform":[{"filter":"datum.panel === 'F'"}],"mark":{"type":"text","font":"Liberation Sans","fontSize":16,"fontWeight":"bold","color":"black","baseline":"middle"},
   "encoding":{"y":{"field":"value","type":"quantitative","scale":{"domain":[0,1500],"range":[130,1],"nice":false}},"text":{"field":"label"}}}
 ]},
{"width":29,"height":130,"data":{"values":[]},"mark":"point"},
{"width":111,"height":130,"data":{"name":"bwF"},
 "title":{"text":"CRC344X","fontSize":6,"offset":-21,"dx":-0.5},
 "encoding":{"x":{"field":"day","type":"quantitative","scale":{"domain":[0,40],"range":[0,110],"nice":false},"axis":{"title":"Days","titleFontSize":5,"titlePadding":3,"values":[0,10,20,30,40],"offset":-14,"labelFontSize":5,"tickSize":2.5,"tickWidth":1,"domainWidth":1.2,"labelPadding":1.5}},
   "y":{"field":"mean","type":"quantitative","scale":{"domain":[18,28],"range":[116,44],"nice":false,"zero":false},"axis":{"title":"Body Weight (g)","values":[18,20,22,24,26,28],"offset":0,"labelFontSize":5,"titleFontSize":4.5,"tickSize":2.5,"tickWidth":1,"domainWidth":1.2,"labelPadding":1.5,"titlePadding":3}}},
 "layer":[
  {"mark":{"type":"errorbar","ticks":true,"size":3.5,"thickness":0.8,"color":"black"},"encoding":{"yError":{"field":"sem"},"detail":{"field":"group"}}},
  {"mark":{"type":"line","color":"black","strokeWidth":0.9},"encoding":{"detail":{"field":"group"}}},
  {"mark":{"type":"point","filled":true,"size":14,"color":"black","opacity":1},"encoding":{
    "shape":{"field":"group","type":"nominal","scale":{"domain":["Sedentary","Exercise"],"range":["triangle-up","triangle-down"]},
     "legend":{"orient":"none","legendX":16.8,"legendY":32.5,"title":null,"padding":0,"clipHeight":5,"rowPadding":5,"symbolSize":19,"labelFont":"DejaVu Sans","labelFontWeight":"bold","labelFontSize":5.2,"labelOffset":6.8}}}}
 ]},

{"width":40,"height":30,"data":{"values":[]},"mark":"point"},
{"width":193,"height":30,"data":{"values":[]},"mark":"point"},
{"width":10,"height":30,"data":{"values":[]},"mark":"point"},
{"width":130,"height":30,"data":{"values":[]},"mark":"point"},
{"width":68,"height":30,"data":{"values":[]},"mark":"point"},
{"width":196,"height":30,"data":{"values":[]},"mark":"point","title":{"text":"*P=0.0307","anchor":"start","frame":"group","offset":-31,"dx":147,"font":"Liberation Sans","fontSize":10,"fontWeight":"normal"}},
{"width":29,"height":30,"data":{"values":[]},"mark":"point"},
{"width":111,"height":30,"data":{"values":[]},"mark":"point"}
],
"config": {
 "numberFormat": "d",
 "view": {"stroke": null},
 "axis": {"grid": false, "domainColor": "black", "domainWidth": 1.8, "tickColor": "black", "tickWidth": 1.5, "tickSize": 4, "labelColor": "black", "labelFont": "Liberation Sans", "labelFontWeight": "bold", "labelFontSize": 8, "labelPadding": 3, "labelFlush": false, "labelOverlap": false, "titleColor": "black", "titleFont": "DejaVu Sans", "titleFontWeight": "bold", "titleFontSize": 9},
 "axisX": {"titlePadding": 6},
 "axisY": {"titlePadding": 4},
 "title": {"color": "black", "font": "DejaVu Sans", "fontWeight": "bold", "fontSize": 8.5, "anchor": "middle", "frame": "group"},
 "legend": {"labelColor": "black", "labelLimit": 300, "titleLimit": 300}
}
}
